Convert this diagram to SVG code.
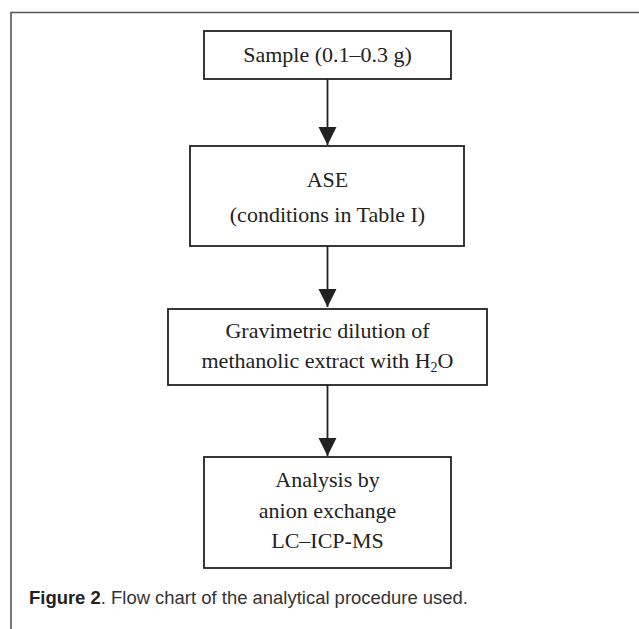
<svg xmlns="http://www.w3.org/2000/svg" width="639" height="629" viewBox="0 0 639 629">
  <style>
    .box { fill: #ffffff; stroke: #222222; stroke-width: 1.8; }
    .lbl { font-family: "Liberation Serif", "Times New Roman", serif; font-size: 22px; fill: #222222; text-anchor: middle; }
    .conn { stroke: #222222; stroke-width: 1.8; fill: none; }
    .cap { font-family: "Liberation Sans", Arial, sans-serif; font-size: 19px; fill: #333333; }
  </style>
  <defs>
    <marker id="arrow" markerUnits="userSpaceOnUse" markerWidth="20" markerHeight="20" refX="18" refY="9" orient="auto">
      <path d="M0,0 L18,9 L0,18 Z" fill="#222222"/>
    </marker>
  </defs>
  <rect width="639" height="629" fill="#ffffff"/>
  <path d="M11,629 L11,12.5 L639,12.5" fill="none" stroke="#555555" stroke-width="1.6"/>

  <g id="connectors">
    <line class="conn" x1="327.5" y1="79" x2="327.5" y2="145" marker-end="url(#arrow)"/>
    <line class="conn" x1="327.5" y1="246" x2="327.5" y2="307" marker-end="url(#arrow)"/>
    <line class="conn" x1="327.5" y1="385" x2="327.5" y2="456" marker-end="url(#arrow)"/>
  </g>

  <g id="sample">
    <rect class="box" x="204" y="31" width="247" height="48"/>
    <text class="lbl" x="327.5" y="62">Sample (0.1–0.3 g)</text>
  </g>

  <g id="ase">
    <rect class="box" x="190" y="146" width="274" height="100"/>
    <text class="lbl" x="327.5" y="187">ASE</text>
    <text class="lbl" x="327.5" y="222">(conditions in Table I)</text>
  </g>

  <g id="dilution">
    <rect class="box" x="168" y="309" width="319" height="76"/>
    <text class="lbl" x="327.5" y="338">Gravimetric dilution of</text>
    <text class="lbl" x="327.5" y="368">methanolic extract with H<tspan font-size="14" dy="4">2</tspan><tspan dy="-4">O</tspan></text>
  </g>

  <g id="analysis">
    <rect class="box" x="204" y="457" width="247" height="111"/>
    <text class="lbl" x="327.5" y="487">Analysis by</text>
    <text class="lbl" x="327.5" y="518">anion exchange</text>
    <text class="lbl" x="327.5" y="548">LC–ICP-MS</text>
  </g>

  <text class="cap" x="29" y="604" textLength="439" lengthAdjust="spacingAndGlyphs"><tspan font-weight="bold" fill="#222222">Figure 2</tspan>. Flow chart of the analytical procedure used.</text>
</svg>
